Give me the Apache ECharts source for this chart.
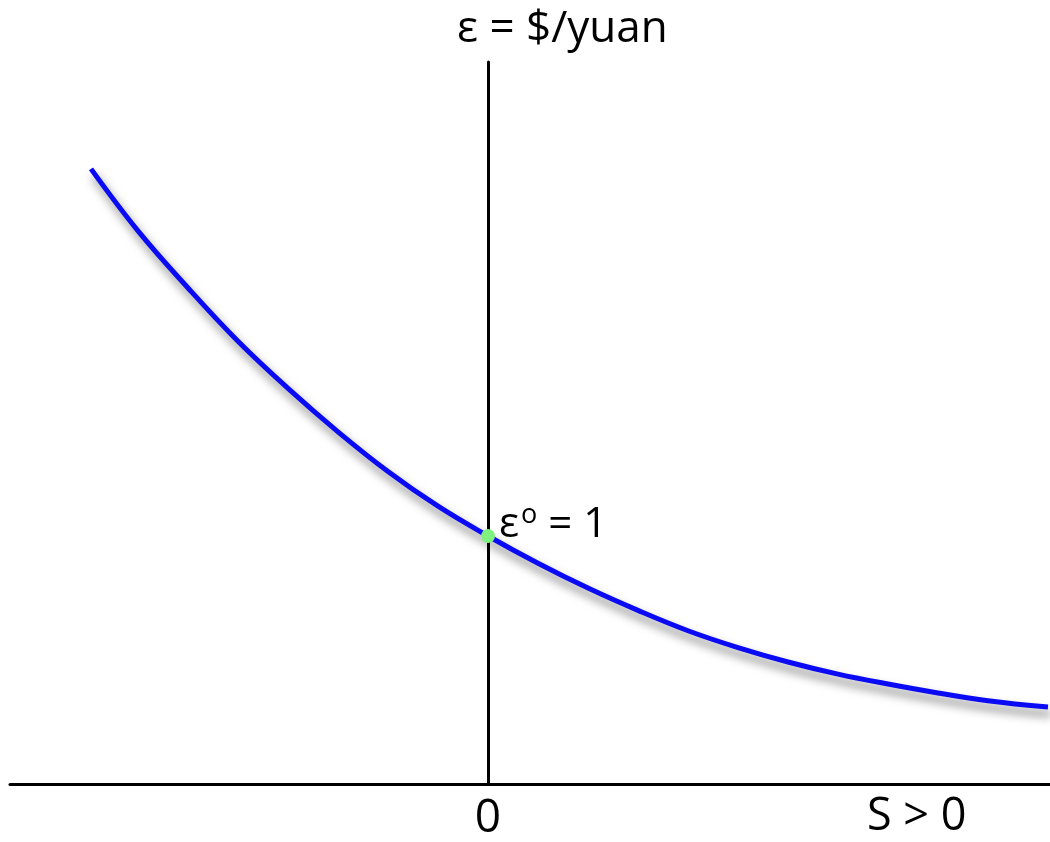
<!DOCTYPE html>
<html>
<head>
<meta charset="utf-8">
<script src="https://cdn.jsdelivr.net/npm/echarts@6/dist/echarts.min.js"></script>
<style>html,body{margin:0;padding:0;background:#fff;}#c{width:1050px;height:842px;}</style>
</head>
<body>
<div id="c"></div>
<script>
// Curve: S (horizontal) vs exchange rate ε (vertical)
var curveS   = [-3.97, -3.5, -3.0, -2.5,  -2.0,  -1.5, -1.0, -0.5, 0.0,  0.5,  1.0,  1.5,  2.0,   2.5,  3.0,   3.5,   4.0,   4.5,   5.0,   5.6];
var curveEps = [2.48,  2.23, 2.00, 1.785, 1.595, 1.42, 1.26, 1.12, 1.00, 0.89, 0.79, 0.70, 0.618, 0.55, 0.492, 0.443, 0.403, 0.367, 0.336, 0.31];
var eqPoint = [0, 1];
var xTickValues = [0];
var xTickLabels = ['0'];
var yAxisTitle = 'ε = $/yuan';
var xAxisTitle = 'S > 0';

var FONT = '"Open Sans", "Noto Sans", sans-serif';
var chart = echarts.init(document.getElementById('c'), null, {renderer: 'canvas'});
var curveData = curveS.map(function (s, i) { return [s, curveEps[i]]; });

chart.setOption({
  animation: false,
  backgroundColor: '#ffffff',
  grid: {left: 10, right: 0, top: 62, bottom: 58, containLabel: false},
  xAxis: {
    type: 'value', min: -4.78, max: 5.62,
    splitLine: {show: false},
    axisLine: {show: true, onZero: false, lineStyle: {color: '#000', width: 3}},
    axisTick: {show: false},
    axisLabel: {
      show: true, customValues: xTickValues,
      formatter: function (v) { var i = xTickValues.indexOf(v); return i >= 0 ? xTickLabels[i] : ''; },
      fontFamily: FONT, fontSize: 46, color: '#000', margin: 12
    }
  },
  yAxis: {
    type: 'value', min: 0, max: 2.911,
    splitLine: {show: false},
    axisLine: {show: true, onZero: true, lineStyle: {color: '#000', width: 3}},
    axisTick: {show: false},
    axisLabel: {show: false}
  },
  graphic: [
    {type: 'text', left: 457, top: 7, style: {text: yAxisTitle, font: '44px ' + FONT, fill: '#000'}},
    {type: 'text', left: 867, top: 795, style: {text: xAxisTitle, font: '45px ' + FONT, fill: '#000'}}
  ],
  series: [
    {
      type: 'line', data: curveData, smooth: 0.4, showSymbol: false, symbol: 'none',
      lineStyle: {color: '#0a0af5', width: 5, shadowColor: 'rgba(0,0,0,0.5)', shadowBlur: 10, shadowOffsetX: 3, shadowOffsetY: 7},
      z: 3
    },
    {
      type: 'scatter', data: [eqPoint], symbol: 'circle', symbolSize: 14,
      itemStyle: {color: '#80f080', opacity: 1}, z: 5,
      label: {
        show: true, position: 'right', distance: 4, offset: [0, -11], color: '#000',
        formatter: '{a|ε}{s|o}{a| = 1}',
        rich: {
          a: {fontFamily: FONT, fontSize: 42, color: '#000'},
          s: {fontFamily: FONT, fontSize: 27, color: '#000', padding: [0, 0, 19, 2]}
        }
      }
    }
  ]
});
</script>
</body>
</html>
